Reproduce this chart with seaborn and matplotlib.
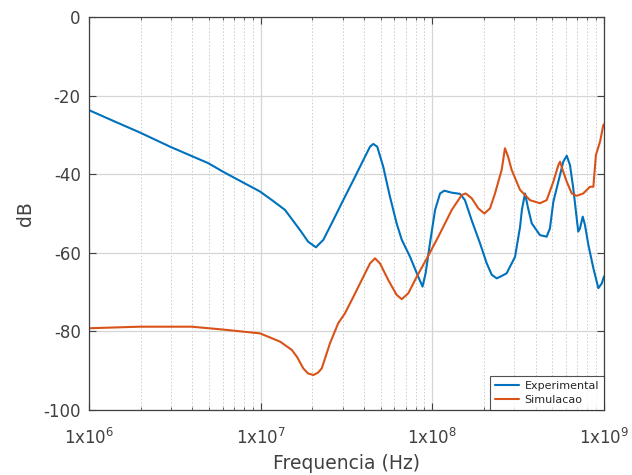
import numpy as np
import pandas as pd
import matplotlib
matplotlib.use("Agg")
import matplotlib.pyplot as plt
from matplotlib.ticker import LogLocator, FixedLocator, FixedFormatter, NullFormatter
import seaborn as sns

# ---- data (log10 of frequency in Hz, magnitude in dB) ----
exp_logf = [6.000, 6.150, 6.297, 6.472, 6.695, 6.782, 6.850, 6.996, 7.066, 7.142, 7.171,
            7.229, 7.277, 7.322, 7.365, 7.423, 7.481, 7.540, 7.598, 7.637, 7.656,
            7.679, 7.714, 7.753, 7.792, 7.822, 7.870, 7.918, 7.943, 7.961, 7.986,
            8.016, 8.045, 8.070, 8.113, 8.161, 8.190, 8.229, 8.278, 8.317, 8.346,
            8.375, 8.404, 8.433, 8.482, 8.511, 8.522, 8.540, 8.557, 8.579, 8.627,
            8.666, 8.685, 8.705, 8.734, 8.763, 8.783, 8.802, 8.821, 8.841, 8.850,
            8.860, 8.876, 8.889, 8.909, 8.938, 8.967, 8.987, 9.000]
exp_db = [-23.7, -26.6, -29.4, -33.0, -37.2, -39.4, -41.0, -44.4, -46.6, -49.1, -50.8,
          -54.2, -57.2, -58.6, -56.7, -51.7, -46.6, -41.5, -36.4, -33.0, -32.3,
          -33.0, -38.1, -45.7, -52.5, -56.7, -61.0, -66.1, -68.6, -65.2, -57.6,
          -49.1, -44.9, -44.2, -44.7, -45.0, -46.6, -51.7, -57.6, -62.7, -65.6,
          -66.5, -65.9, -65.2, -61.0, -53.4, -49.0, -44.9, -48.5, -52.5, -55.5,
          -55.9, -53.8, -47.0, -41.9, -36.8, -35.3, -37.7, -43.6, -51.2, -54.6,
          -53.8, -50.8, -52.9, -58.0, -63.9, -69.0, -67.8, -66.0]

sim_logf = [6.000, 6.297, 6.598, 6.773, 6.996, 7.113, 7.181, 7.212, 7.248, 7.276,
            7.307, 7.334, 7.356, 7.404, 7.452, 7.491, 7.540, 7.598, 7.637, 7.666,
            7.695, 7.743, 7.792, 7.822, 7.860, 7.909, 7.967, 8.035, 8.113, 8.171,
            8.194, 8.229, 8.268, 8.303, 8.336, 8.365, 8.404, 8.423, 8.441, 8.462,
            8.511, 8.569, 8.627, 8.666, 8.705, 8.734, 8.744, 8.759, 8.783, 8.812,
            8.841, 8.879, 8.918, 8.938, 8.953, 8.977, 8.996, 9.000]
sim_db = [-79.2, -78.8, -78.8, -79.5, -80.5, -82.6, -84.7, -86.5, -89.4, -90.7,
          -91.1, -90.5, -89.4, -83.0, -77.9, -75.4, -71.2, -66.1, -62.7, -61.4,
          -62.7, -66.9, -70.7, -71.8, -70.3, -66.1, -61.5, -55.9, -49.1, -45.3,
          -44.9, -46.1, -48.7, -50.0, -48.7, -44.9, -38.9, -33.4, -35.5, -38.9,
          -44.0, -46.6, -47.4, -46.6, -41.9, -37.7, -36.8, -38.9, -41.9, -44.9,
          -45.5, -44.9, -43.2, -43.2, -35.1, -31.7, -27.5, -27.3]

series_names = ["Experimental", "Simulacao"]
xtick_vals = [1e6, 1e7, 1e8, 1e9]
xtick_labels = [r"1x10$^{6}$", r"1x10$^{7}$", r"1x10$^{8}$", r"1x10$^{9}$"]
ytick_vals = [0, -20, -40, -60, -80, -100]

df = pd.concat([
    pd.DataFrame({"f": 10 ** np.array(exp_logf), "dB": exp_db, "serie": series_names[0]}),
    pd.DataFrame({"f": 10 ** np.array(sim_logf), "dB": sim_db, "serie": series_names[1]}),
])

sns.set_style("ticks")
plt.rcParams["font.family"] = ["DejaVu Sans"]
plt.rcParams["axes.unicode_minus"] = False
plt.rcParams["lines.solid_joinstyle"] = "round"
text_color = "#404040"

fig = plt.figure(figsize=(6.32, 4.75), dpi=100)
ax = fig.add_axes([89 / 632, 1 - 410 / 475, (604 - 89) / 632, (410 - 17) / 475])

palette = {"Experimental": "#0072BD", "Simulacao": "#D95319"}
sns.lineplot(data=df, x="f", y="dB", hue="serie", palette=palette, sort=False,
             estimator=None, linewidth=1.5, ax=ax)

ax.set_xscale("log")
ax.set_xlim(1e6, 1e9)
ax.set_ylim(-100, 0)

ax.xaxis.set_major_locator(FixedLocator(xtick_vals))
ax.xaxis.set_major_formatter(FixedFormatter(xtick_labels))
ax.xaxis.set_minor_locator(LogLocator(base=10, subs=np.arange(2, 10), numticks=20))
ax.xaxis.set_minor_formatter(NullFormatter())
ax.set_yticks(ytick_vals)

ax.grid(True, which="major", color="#d6d6d6", linestyle="-", linewidth=0.9)
ax.grid(True, which="minor", axis="x", color="#cccccc", linestyle=(0, (1.5, 2)), linewidth=0.7)
ax.set_axisbelow(True)

for s in ax.spines.values():
    s.set_visible(True)
    s.set_color("#404040")
    s.set_linewidth(0.9)

ax.tick_params(which="both", direction="in", top=True, right=True, colors="#404040",
               labelcolor=text_color)
ax.tick_params(which="major", length=5, labelsize=12)
ax.tick_params(which="minor", length=2.5)
ax.tick_params(axis="x", which="major", pad=13)
ax.tick_params(axis="y", which="major", pad=6)

ax.set_xlabel("Frequencia (Hz)", fontsize=13.5, color=text_color, labelpad=4)
ax.set_ylabel("dB", fontsize=13.5, color=text_color, labelpad=6)

leg = ax.legend(loc="lower right", fontsize=8, frameon=True, fancybox=False,
                borderaxespad=0.0, handlelength=2.2, handletextpad=0.5,
                borderpad=0.45, labelspacing=0.35)
leg.get_frame().set_edgecolor("#262626")
leg.get_frame().set_linewidth(0.8)
for t in leg.get_texts():
    t.set_color("#262626")

fig.savefig("out.png", dpi=100)
